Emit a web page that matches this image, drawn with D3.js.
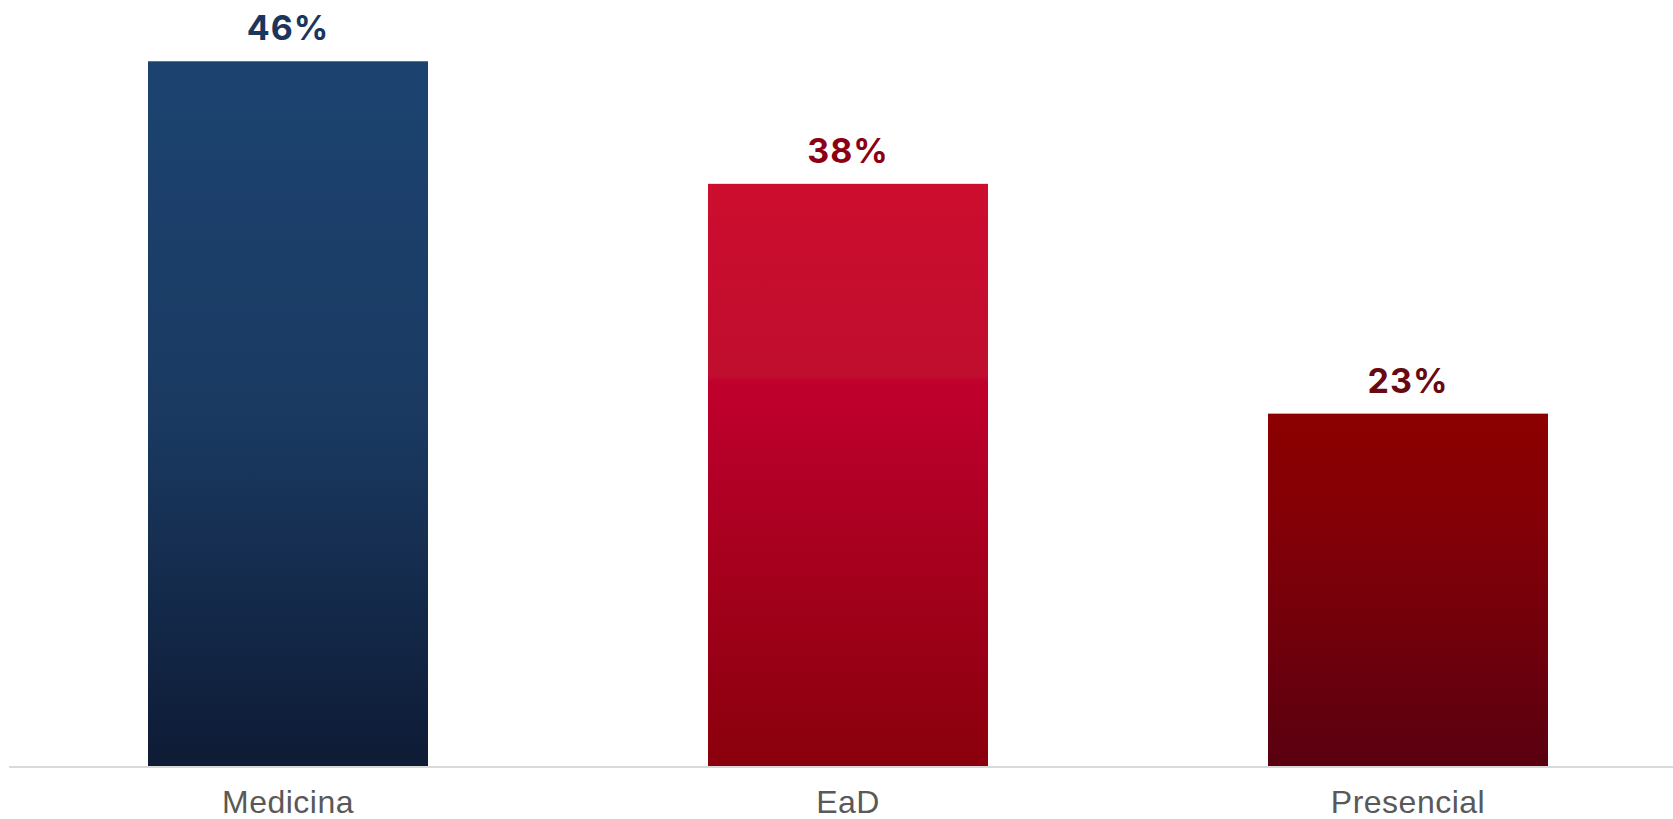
<!DOCTYPE html>
<html>
<head>
<meta charset="utf-8">
<script src="https://cdn.jsdelivr.net/npm/d3@7"></script>
<style>
  body { margin: 0; background: #fff; }
</style>
</head>
<body>
<svg></svg>
<script>
//data
const categories = ["Medicina", "EaD", "Presencial"];
const values = [46, 38, 23];
const labels = ["46%", "38%", "23%"];

//colors (top -> bottom)
const barColors = [
    [["0%", "#1c4370"], ["50%", "#1a3a62"], ["100%", "#0e1b35"]],
    [["0%", "#cd0d2e"], ["33%", "#c00e2e"], ["34%", "#c0002e"], ["100%", "#8a000c"]],
    [["0%", "#8c0000"], ["35%", "#820008"], ["100%", "#5a0010"]]
];
const labelColors = ["#1b365d", "#8b0012", "#680a12"];

//setting
const Width = 1673;
const Height = 819;
const baseY = 766;

const svg = d3.select("svg").attr("width", Width).attr("height", Height).style("background", "#fff");

const x = d3.scaleBand().domain(categories).range([8, 1688]).paddingInner(0.5).paddingOuter(0.25);
const y = d3.scaleLinear().domain([0, 50]).range([baseY, 0]);

const defs = svg.append("defs");
barColors.forEach((stops, i) => {
    defs.append("linearGradient")
    .attr("id", "grad" + i)
    .attr("x1", 0).attr("y1", 0).attr("x2", 0).attr("y2", 1)
    .selectAll("stop")
    .data(stops)
    .join("stop")
    .attr("offset", d => d[0])
    .attr("stop-color", d => d[1]);
});

//bars
svg.append("g")
.selectAll("rect")
.data(values)
.join("rect")
.attr("x", (d, i) => x(categories[i]))
.attr("y", d => y(d))
.attr("width", x.bandwidth())
.attr("height", d => baseY - y(d))
.attr("fill", (d, i) => `url(#grad${i})`);

//baseline
svg.append("line")
.attr("x1", 9).attr("x2", Width)
.attr("y1", baseY + 1).attr("y2", baseY + 1)
.attr("stroke", "#d9d9d9")
.attr("stroke-width", 2);

//value labels
svg.append("g")
.selectAll("text")
.data(values)
.join("text")
.text((d, i) => labels[i])
.attr("x", (d, i) => x(categories[i]) + x.bandwidth() / 2)
.attr("y", d => y(d) - 21)
.attr("text-anchor", "middle")
.attr("fill", (d, i) => labelColors[i])
.style("font-family", "Inter, 'Open Sans', sans-serif")
.style("font-weight", 700)
.style("font-size", "34px")
.style("letter-spacing", "1px");

//category labels
svg.append("g")
.selectAll("text")
.data(categories)
.join("text")
.text(d => d)
.attr("x", d => x(d) + x.bandwidth() / 2)
.attr("y", 813)
.attr("text-anchor", "middle")
.attr("fill", "#595959")
.style("font-family", "'Liberation Sans', Arial, sans-serif")
.style("font-size", "32px")
.style("letter-spacing", "0.5px");
</script>
</body>
</html>
